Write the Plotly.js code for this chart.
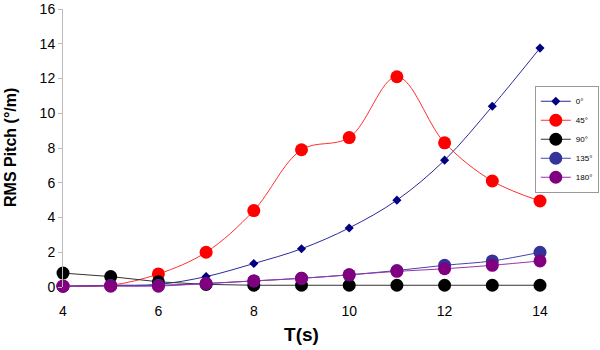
<!DOCTYPE html>
<html><head><meta charset="utf-8">
<script src="https://cdn.plot.ly/plotly-3.0.1.min.js"></script>
<style>html,body{margin:0;padding:0;background:#fff}#chart{width:600px;height:350px}</style>
</head><body><div id="chart"></div>
<script>
const T = [4,5,6,7,8,9,10,11,12,13,14];
const s0 = [0.05,0.1,0.15,0.6,1.35,2.2,3.4,5.0,7.3,10.4,13.75];
const s45 = [0.05,0.1,0.75,2.0,4.4,7.9,8.6,12.1,8.3,6.1,4.95];
const s90 = [0.8,0.6,0.3,0.15,0.1,0.1,0.1,0.1,0.1,0.1,0.1];
const s135 = [0.05,0.08,0.1,0.2,0.35,0.5,0.7,0.95,1.25,1.5,2.0];
const s180 = [0.05,0.05,0.05,0.2,0.35,0.5,0.7,0.9,1.05,1.25,1.5];
const names = ['0°','45°','90°','135°','180°'];
const xTicks = [4,6,8,10,12,14];
const yTicks = [0,2,4,6,8,10,12,14,16];

const traces = [
 {x:T,y:s0,name:names[0],mode:'lines+markers',line:{color:'#2a2a9a',width:1,shape:'spline'},marker:{symbol:'diamond',size:7,color:'#000080'}},
 {x:T,y:s45,name:names[1],mode:'lines+markers',line:{color:'#ff3030',width:1,shape:'spline'},marker:{symbol:'circle',size:13,color:'#ff0000'}},
 {x:T,y:s90,name:names[2],mode:'lines+markers',line:{color:'#333333',width:1},marker:{symbol:'circle',size:13,color:'#000000'}},
 {x:T,y:s135,name:names[3],mode:'lines+markers',line:{color:'#4444aa',width:1,shape:'spline'},marker:{symbol:'circle',size:13,color:'#333399'}},
 {x:T,y:s180,name:names[4],mode:'lines+markers',line:{color:'#9933aa',width:1,shape:'spline'},marker:{symbol:'circle',size:13,color:'#800080'}}
];
traces.forEach(t=>t.cliponaxis=false);

const layout = {
 width:600,height:350,
 margin:{l:63,r:60,t:9,b:63,autoexpand:false},
 paper_bgcolor:'#fff',plot_bgcolor:'#fff',
 font:{family:'Liberation Sans, Arial, sans-serif',color:'#000',size:14},
 xaxis:{range:[4,14],tickvals:xTicks,ticks:'',showgrid:false,zeroline:false,showline:false,
   ticklabelstandoff:14,tickfont:{size:14},title:{text:'<b>T(s)</b>',font:{size:19},standoff:9}},
 yaxis:{range:[0,16],tickvals:yTicks,ticks:'outside',ticklen:4,tickcolor:'#bbb',showgrid:false,zeroline:false,
   showline:true,linecolor:'#bbb',linewidth:1,tickfont:{size:14},ticklabeloverflow:'allow'},
 legend:{xref:'container',yref:'container',x:0.998,y:0.755,xanchor:'right',yanchor:'top',bordercolor:'#999',borderwidth:1,
   font:{size:8},itemwidth:30,tracegroupgap:0,bgcolor:'rgba(255,255,255,0.85)'},
 annotations:[{xref:'paper',yref:'paper',x:0,y:0.5,xshift:-53,text:'<b>RMS Pitch (°/m)</b>',textangle:-90,
   showarrow:false,font:{size:16},xanchor:'center',yanchor:'middle'}],
 showlegend:true
};
Plotly.newPlot('chart',traces,layout,{staticPlot:true,displayModeBar:false});
</script></body></html>
